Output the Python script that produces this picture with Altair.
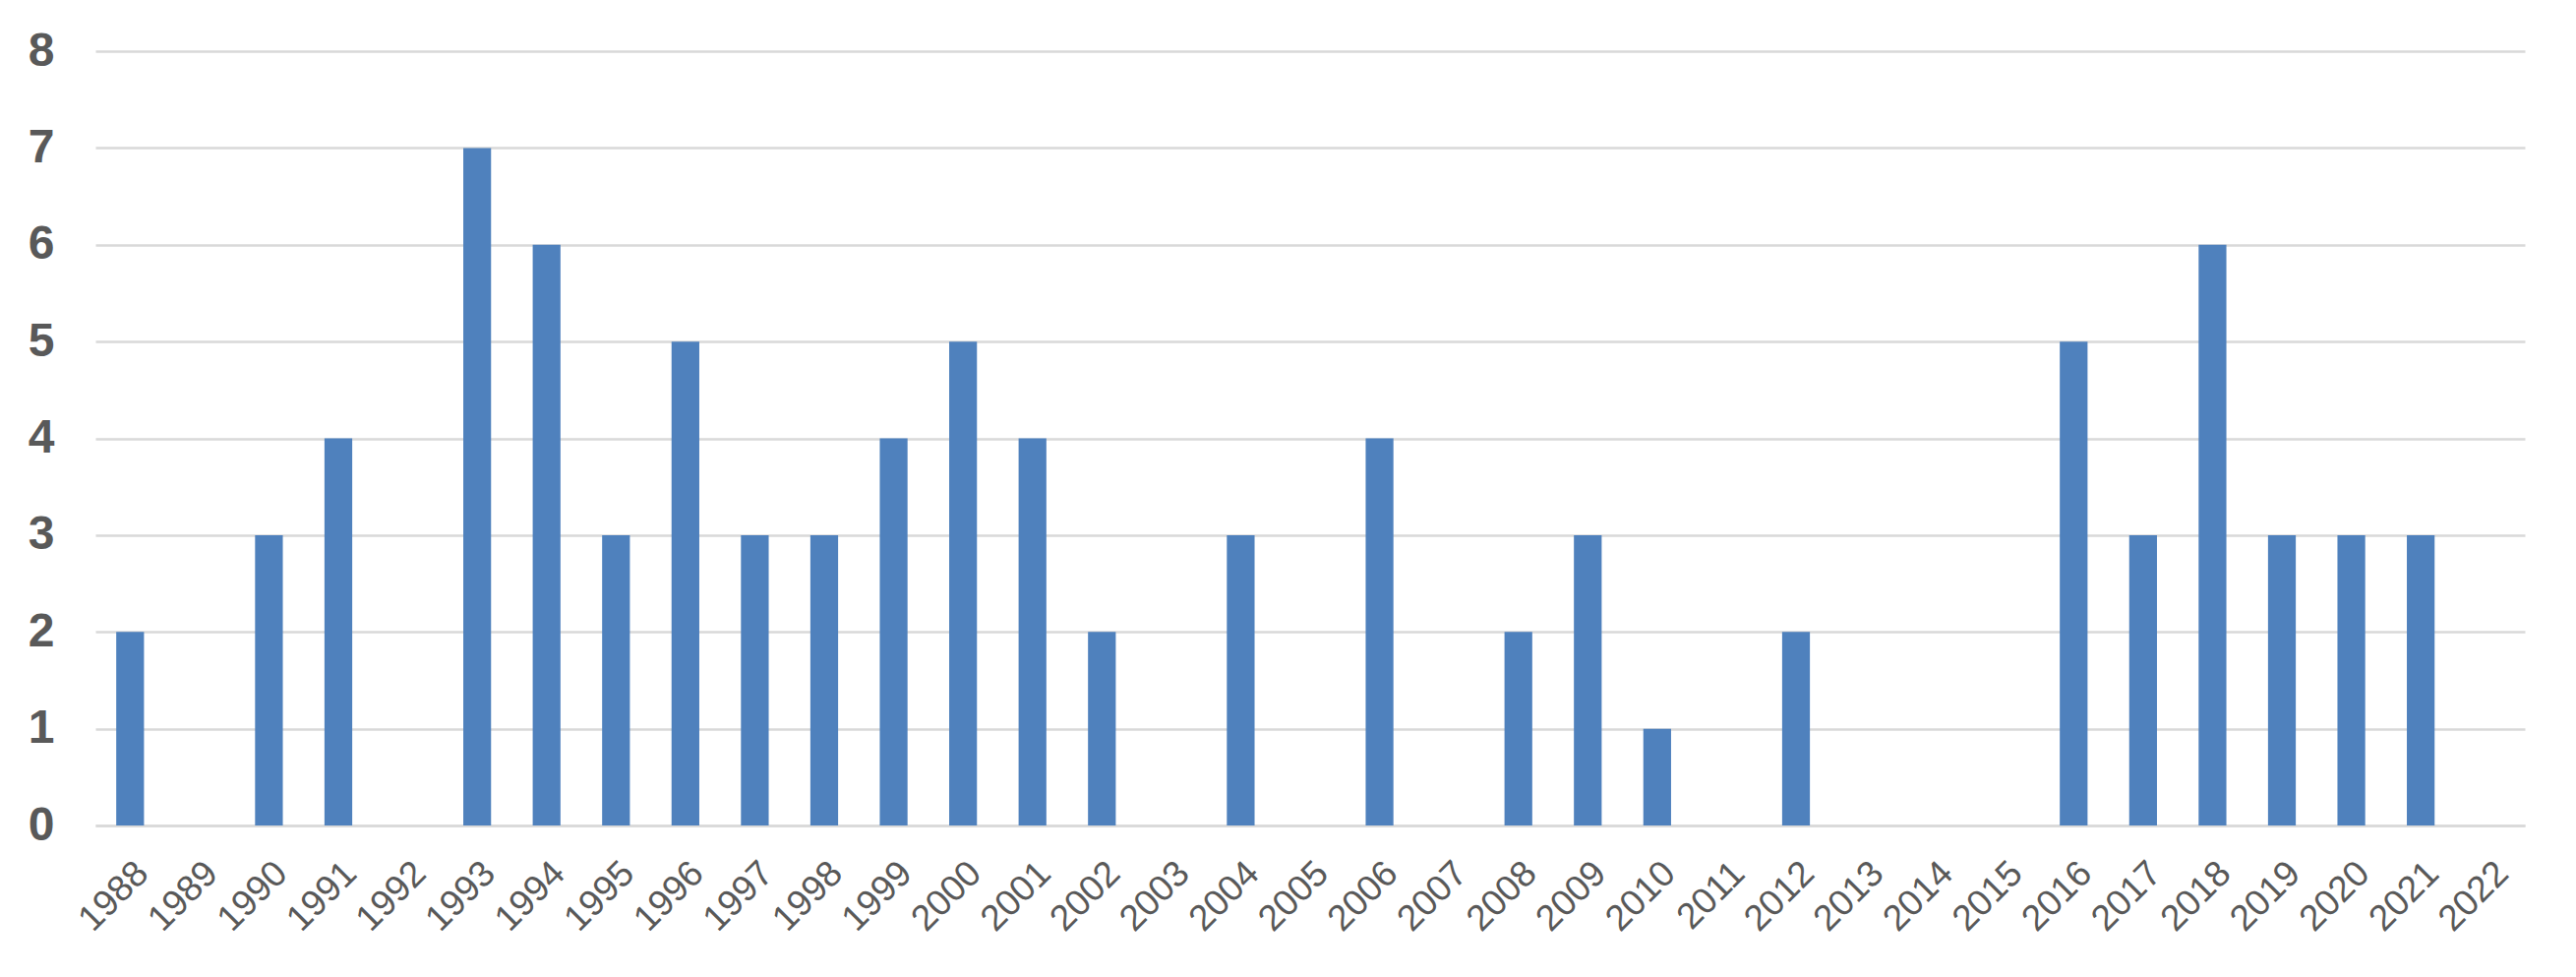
import altair as alt
import pandas as pd

years = [str(y) for y in range(1988, 2023)]
counts = [2, 0, 3, 4, 0, 7, 6, 3, 5, 3, 3, 4, 5, 4, 2, 0, 3, 0, 4, 0,
          2, 3, 1, 0, 2, 0, 0, 0, 5, 3, 6, 3, 3, 3, 0]

df = pd.DataFrame({"year": years, "count": counts})

chart = alt.Chart(df).mark_bar(color="#4f81bd").encode(
    x=alt.X("year:N", sort=years,
            scale=alt.Scale(paddingInner=0.6, paddingOuter=0.3),
            axis=alt.Axis(title=None, labelAngle=315, labelAlign="right",
                          labelBaseline="top", labelPadding=30, ticks=False,
                          domainColor="#d9d9d9", domainWidth=2.7,
                          labelFont="Liberation Sans", labelFontSize=37,
                          labelColor="#595959", grid=False)),
    y=alt.Y("count:Q", scale=alt.Scale(domain=[0, 8]),
            axis=alt.Axis(title=None, values=list(range(0, 9)), ticks=False,
                          domain=False, gridColor="#d9d9d9", gridWidth=2.7,
                          labelFont="Liberation Sans", labelFontSize=48,
                          labelFontWeight="bold", labelColor="#595959",
                          labelPadding=42)),
).properties(
    width=2470, height=787,
    autosize=alt.AutoSizeParams(type="none"),
    padding={"left": 89, "top": 44, "right": 44, "bottom": 146},
).configure_view(stroke=None)

chart.save("out.html", embed_options={"renderer": "svg", "actions": False})
